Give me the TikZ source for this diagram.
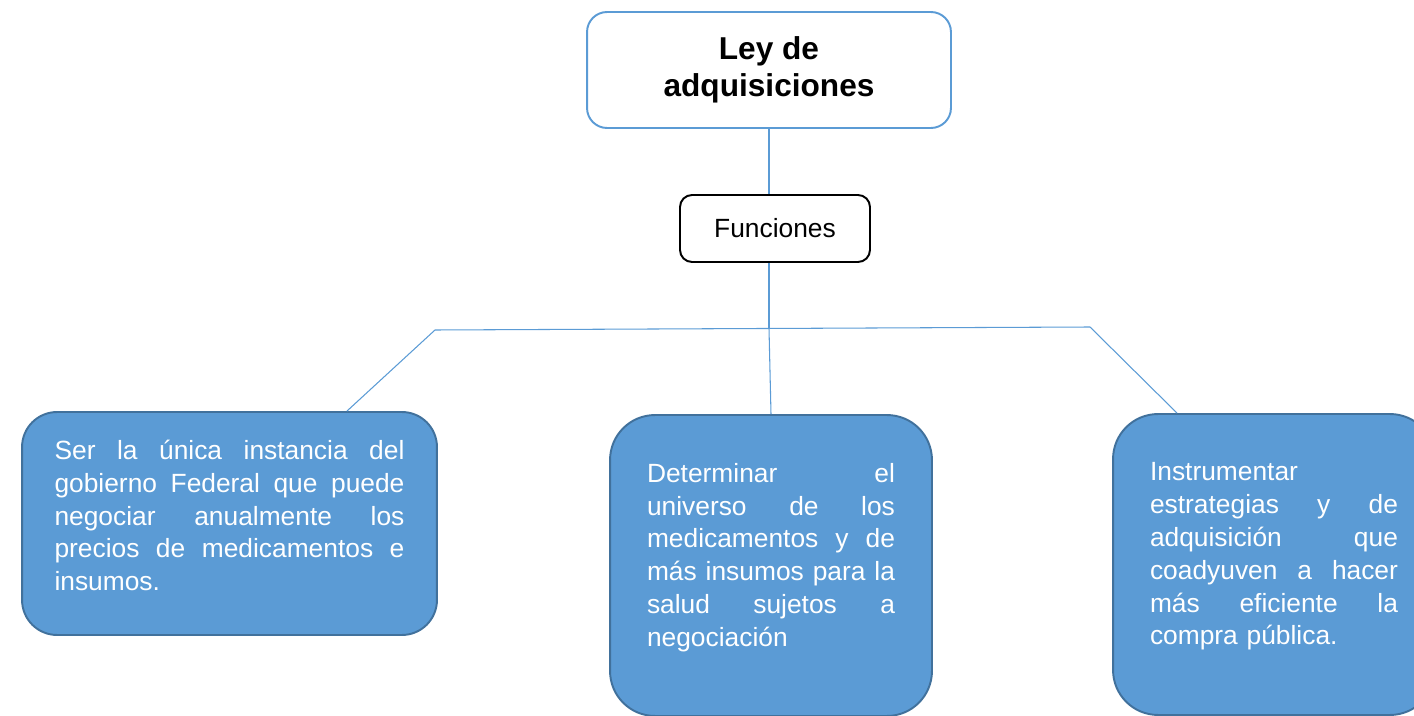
\documentclass[tikz,border=0pt]{standalone}
\usepackage{fontspec}
\setmainfont{Liberation Sans}
\usepackage{xcolor}
\usepackage{tikz}
\usetikzlibrary{positioning}

\definecolor{boxblue}{HTML}{5B9BD5}
\definecolor{boxedge}{HTML}{41719C}
\newcommand{\jline}[1]{\hbox to \hsize{\spaceskip=0.28em plus 1fil\relax #1}}
\newcommand{\lastgap}{\par\vspace*{0.32cm}}

\begin{document}
\begin{tikzpicture}[x=0.02cm,y=-0.02cm]
	\tikzstyle{title}=[draw=boxblue,line width=1.1pt,rounded corners=0.4cm,minimum width=7.28cm,minimum height=2.32cm,align=center,font=\fontsize{18}{21}\selectfont\bfseries]
	\tikzstyle{sub}=[draw=black,line width=1.1pt,rounded corners=0.24cm,minimum width=3.8cm,minimum height=1.34cm,font=\fontsize{15}{18}\selectfont]
	\tikzstyle{func}=[draw=boxedge,fill=boxblue,line width=1.1pt,text=white,align=left,inner sep=0pt,font=\fontsize{15}{18.7}\selectfont]
	\tikzstyle{link}=[draw=boxblue,line width=0.6pt]
	\useasboundingbox (0,0) rectangle (1414,716);
	\node[title](ley) at (769,70){Ley de\\adquisiciones};
	\node[sub](fun) at (775,228.5){Funciones};
	\node[func,minimum width=8.3cm,minimum height=4.46cm,rounded corners=0.7cm,text width=7cm](f1) at (229.5,523.5){%
		\jline{Ser la única instancia del}
		\jline{gobierno Federal que puede}
		\jline{negociar anualmente los}
		\jline{precios de medicamentos e}
		insumos.\lastgap};
	\node[func,minimum width=6.44cm,minimum height=6.02cm,rounded corners=0.9cm,text width=4.96cm](f2) at (771,565.5){%
		\jline{Determinar el}
		\jline{universo de los}
		\jline{medicamentos y de}
		\jline{más insumos para la}
		\jline{salud sujetos a}
		negociación\lastgap};
	\node[func,minimum width=6.44cm,minimum height=6.02cm,rounded corners=0.9cm,text width=4.96cm](f3) at (1274,564.5){%
		Instrumentar\par
		\jline{estrategias y de}
		\jline{adquisición que}
		\jline{coadyuven a hacer}
		\jline{más eficiente la}
		compra pública.\lastgap};
	\coordinate (hl) at (435,330);
	\coordinate (hm) at (769,328.5);
	\coordinate (hr) at (1090,327);
	\path[link]
		(ley.south) edge (ley.south |- fun.north)
		(hm |- fun.south) edge (hm)
		(hl) edge (hr)
		(hl) edge ([xshift=2.35cm]f1.north)
		(hm) edge (f2.north)
		(hr) edge ([xshift=-1.94cm]f3.north);
\end{tikzpicture}
\end{document}
